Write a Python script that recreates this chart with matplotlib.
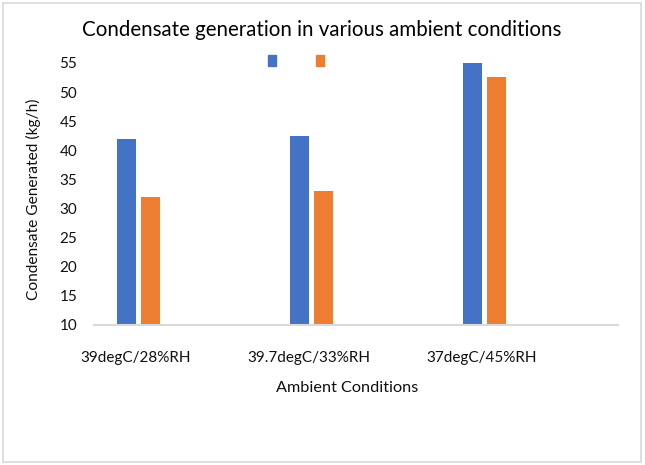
import matplotlib
matplotlib.use("Agg")
import matplotlib.pyplot as plt
from matplotlib.patches import Rectangle, Patch

categories = ["39degC/28%RH", "39.7degC/33%RH", "37degC/45%RH"]
series1 = [42, 42.5, 55]
series2 = [32, 33, 52.6]
yticks = [10, 15, 20, 25, 30, 35, 40, 45, 50, 55]

plt.rcParams['font.family'] = ['Lato', 'DejaVu Sans']
W, H = 645, 465
fig = plt.figure(figsize=(W / 100, H / 100), dpi=100)

# chart area border
fig.patches.append(Rectangle((2.5 / W, 3 / H), (641 - 2.5) / W, (462 - 3) / H,
                             transform=fig.transFigure, fill=False,
                             edgecolor='#D9D9D9', linewidth=1.2))

ax_l, ax_r, ax_t, ax_b = 94, 618, 63, 324.5
ax = fig.add_axes([ax_l / W, 1 - ax_b / H, (ax_r - ax_l) / W, (ax_b - ax_t) / H])

x = list(range(len(categories)))
bw = 0.112
ax.bar([i - 0.055 for i in x], [v - 10 for v in series1], bw, bottom=10, color='#4472C4')
ax.bar([i + 0.085 for i in x], [v - 10 for v in series2], bw, bottom=10, color='#ED7D31')

unit = 173.0
ax.set_xlim((ax_l - 136) / unit, (ax_r - 136) / unit)
ax.set_ylim(10, 55)
ax.set_yticks(yticks)
ax.set_xticks(x)
ax.set_xticklabels(categories)
for s in ['top', 'right', 'left']:
    ax.spines[s].set_visible(False)
ax.spines['bottom'].set_color('#D9D9D9')
ax.spines['bottom'].set_linewidth(1.5)
ax.tick_params(axis='both', length=0, labelsize=11, colors='#111111')
ax.tick_params(axis='x', pad=19)
ax.tick_params(axis='y', pad=12)

fig.text(321.5 / W, 1 - 30 / H, "Condensate generation in various ambient conditions",
         ha='center', va='center', fontsize=14.8, color='#000000')
fig.text(347 / W, 1 - 388 / H, "Ambient Conditions", ha='center', va='center',
         fontsize=11.7, color='#111111')
fig.text(33 / W, 1 - 199 / H, "Condensate Generated (kg/h)", ha='center', va='center',
         rotation=90, fontsize=11.2, color='#111111')

handles = [Patch(color='#4472C4'), Patch(color='#ED7D31')]
fig.legend(handles, ['', ''], loc='center', bbox_to_anchor=(296 / W, 1 - 61 / H),
           ncol=2, frameon=False, handlelength=0.6, handleheight=0.8,
           columnspacing=2.9, handletextpad=0.0)

fig.savefig("out.png", dpi=100)
